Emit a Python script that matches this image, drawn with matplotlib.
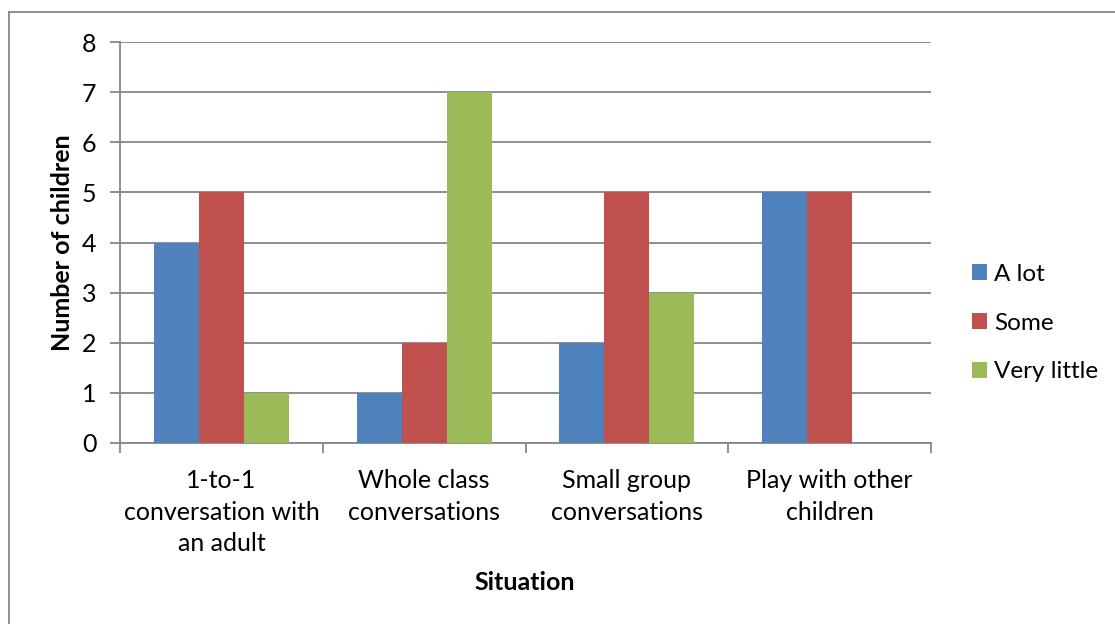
import matplotlib
matplotlib.use("Agg")
import matplotlib.pyplot as plt
import numpy as np
from matplotlib.lines import Line2D

categories = ["1-to-1\nconversation with\nan adult", "Whole class\nconversations",
              "Small group\nconversations", "Play with other\nchildren"]
series_names = ["A lot", "Some", "Very little"]
a_lot = [4, 1, 2, 5]
some = [5, 2, 5, 5]
very_little = [1, 7, 3, 0]
y_ticks = [0, 1, 2, 3, 4, 5, 6, 7, 8]

colors = ["#4F81BD", "#C0504D", "#9BBB59"]
grid_color = "#868686"
fs = 18

plt.rcParams['font.family'] = ['Lato', 'DejaVu Sans']

fig = plt.figure(figsize=(11.15, 6.24), dpi=100)
W, H = 1115, 624
ax = fig.add_axes([120 / W, 1 - 443 / H, (931 - 120) / W, (443 - 42) / H])

x = np.arange(len(categories))
width = 1 / 4.5
for i, (vals, name) in enumerate(zip([a_lot, some, very_little], series_names)):
    ax.bar(x + (i - 1) * width, vals, width, color=colors[i], label=name, zorder=3)

ax.set_xlim(-0.5, len(categories) - 0.5)
ax.set_ylim(0, 8)
ax.set_yticks(y_ticks)
ax.set_yticklabels([str(v) for v in y_ticks], fontsize=fs)
ax.yaxis.grid(True, color=grid_color, linewidth=1.3, zorder=0)
ax.tick_params(axis='y', length=7, width=1.3, color=grid_color, pad=10)

# Category ticks at the boundaries between groups
ax.set_xticks(np.arange(-0.5, len(categories), 1.0))
ax.set_xticklabels([])
ax.set_xticks(x, minor=True)
ax.set_xticklabels(categories, minor=True, fontsize=fs, linespacing=1.45)
ax.tick_params(axis='x', which='major', length=7, width=1.3, color=grid_color)
ax.tick_params(axis='x', which='minor', length=0, pad=19)

for side in ["top", "right"]:
    ax.spines[side].set_visible(False)
for side in ["left", "bottom"]:
    ax.spines[side].set_color(grid_color)
    ax.spines[side].set_linewidth(1.3)

fig.text(62 / W, 1 - 243 / H, "Number of children", rotation=90, fontsize=fs,
         fontweight='bold', ha='center', va='center')
fig.text(525 / W, 1 - 583 / H, "Situation", fontsize=fs, fontweight='bold',
         ha='center', va='center')

leg = fig.legend(loc='center left', bbox_to_anchor=(960 / W, 1 - 323 / H),
                 frameon=False, fontsize=17.5, handlelength=0.6, handleheight=0.6,
                 handletextpad=0.3, labelspacing=1.15, borderpad=0)

# Chart area border
fig.add_artist(Line2D([8.5 / W, 8.5 / W], [0, 1 - 12 / H], transform=fig.transFigure,
                      color=grid_color, linewidth=1.3))
fig.add_artist(Line2D([8.5 / W, 1], [1 - 12 / H, 1 - 12 / H], transform=fig.transFigure,
                      color=grid_color, linewidth=1.3))

fig.savefig("out.png", dpi=100)
